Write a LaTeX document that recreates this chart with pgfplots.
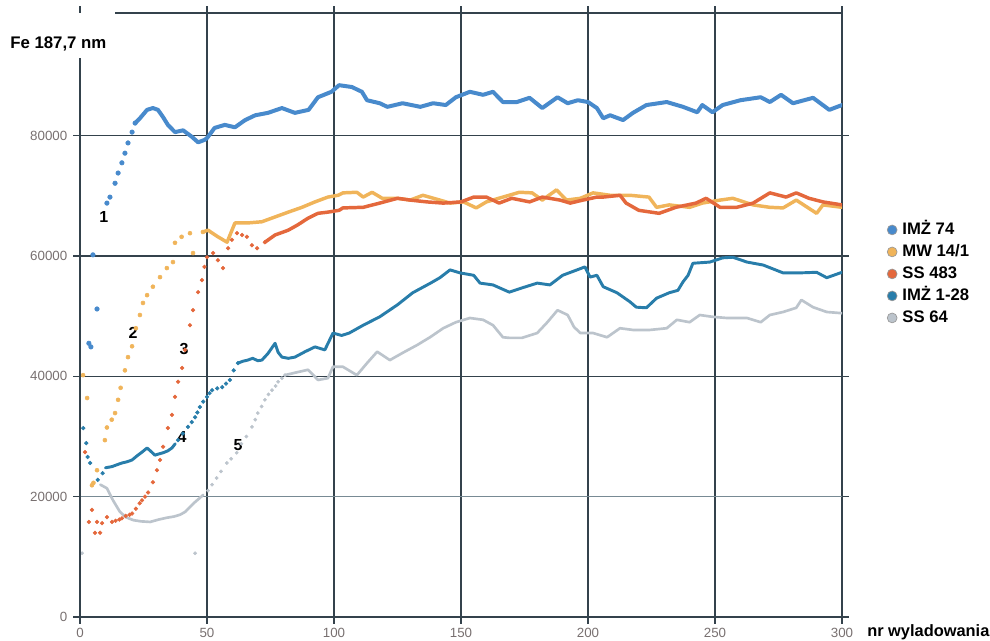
\documentclass[border=0pt]{standalone}
\usepackage{fontspec}
\setmainfont{Liberation Sans}
\usepackage{pgfplots}
\pgfplotsset{compat=1.18}
\definecolor{cA}{RGB}{72,138,204}
\definecolor{cB}{RGB}{240,180,90}
\definecolor{cC}{RGB}{228,104,60}
\definecolor{cD}{RGB}{40,125,170}
\definecolor{cE}{RGB}{188,196,204}
\definecolor{gridc}{RGB}{52,66,76}
\definecolor{gridl}{RGB}{120,138,148}
\definecolor{tickc}{RGB}{120,112,112}
\begin{document}
\begin{tikzpicture}
\begin{axis}[name=ax,
  scale only axis, width=571.5pt, height=453pt,
  xmin=0, xmax=300, ymin=0, ymax=100400,
  axis line style={draw=none},
  /pgf/number format/assume math mode=true,
  /pgf/number format/set thousands separator={},
  xtick={50,100,...,300}, extra x ticks={0}, extra x tick style={grid=none},
  ytick={0,40000,60000,80000}, extra y ticks={20000},
  extra y tick style={major grid style={draw=gridl, line width=1pt}},
  scaled y ticks=false,
  grid=major,
  major grid style={draw=gridc, line width=1.1pt},
  tick align=outside, major tick length=5pt,
  tick style={draw=gridc, line width=0.9pt},
  ticklabel style={text=tickc, font=\fontsize{10}{12}\selectfont},
  yticklabel style={xshift=-1pt},
  legend style={at={(axis description cs:1.059,0.568)}, anchor=west, draw=none, fill=none,
    inner sep=0pt, row sep=5pt,
    font=\bfseries\fontsize{12.5}{14}\selectfont,
    nodes={text height=9pt, text depth=2.5pt, inner xsep=4pt, inner ysep=0pt},
    cells={anchor=west}},
  legend image code/.code={\draw[#1, mark size=3.7pt, mark options={draw=black!40, line width=0.5pt}] plot coordinates {(0pt,0pt)};},
]
% ---- IMZ 74
\addplot[only marks, mark=*, mark size=1.7pt, color=cA] coordinates {
(3.5,45500)(4.3,44900)(5.1,60200)(6.7,51200)(10.6,68800)(11.8,69800)(13.8,72100)(15,73800)(16.5,75500)(17.7,77100)(18.9,78800)(20.5,80600)(21.7,82100)};
\addlegendentry{IMŻ 74}
\addplot[no markers, line width=3pt, color=cA, line join=round, line cap=round, forget plot] coordinates {
(21.7,82100)(23.6,82900)(26.4,84300)(28.7,84600)(30.7,84300)(32.7,83100)(34.6,81800)(37.4,80600)(40.6,80900)(44.1,79800)(46.5,78900)(49,79300)(50,79600)(53,81300)(57,81800)(61,81400)(65,82600)(69,83400)(74,83800)(79.5,84600)(84.6,83800)(90,84300)(93.7,86400)(99,87300)(102,88400)(107,88100)(111,87300)(113,85900)(118,85400)(121,84800)(127,85400)(134,84800)(139,85400)(144,85100)(148,86400)(153.5,87300)(158.7,86800)(162.6,87300)(166.5,85600)(172,85600)(177,86300)(182,84600)(188,86400)(192,85400)(196,85900)(200,85600)(203.5,84600)(206,82900)(208.7,83400)(213.8,82600)(217.7,83800)(223,85100)(231,85600)(237.4,84800)(243,83900)(245,85100)(249,83900)(253,85100)(260,85900)(268,86400)(271.6,85600)(276,86800)(280.7,85400)(288.6,86300)(295,84300)(300,85100)};
% ---- MW 14/1
\addplot[only marks, mark=*, mark size=1.5pt, color=cB] coordinates {
(1.2,40200)(2.8,36400)(4.7,21900)(5.3,22300)(6.7,24400)(9.8,29400)(10.6,31500)(12.5,32800)(13.8,33900)(15,36100)(16,38100)(17.7,41000)(18.9,43200)(20.5,45000)(22,48000)(23.6,50200)(24.8,52200)(26.4,53500)(28.7,54900)(31.5,56500)(34.2,58000)(36.6,59000)(37.4,62200)(40,63200)(43.3,63800)(44.5,60500)(48.4,64000)};
\addlegendentry{MW 14/1}
\addplot[no markers, line width=2.6pt, color=cB, line join=round, line cap=round, forget plot] coordinates {
(48.4,64000)(50.4,64300)(54.3,63200)(57.9,62300)(61,65500)(66,65500)(71.6,65700)(76.8,66500)(82,67300)(87.4,68100)(92.5,69000)(97.6,69800)(101.6,70100)(103.5,70500)(109,70600)(111.5,69800)(115,70600)(119,69600)(125,69600)(130,69300)(135,70100)(141.7,69300)(145.7,68800)(151,69000)(156,68000)(160,69000)(166.5,69800)(173,70600)(178,70500)(182,69300)(187.6,71000)(191.5,69300)(197,69600)(202,70500)(208.7,70100)(216.5,70100)(224,69800)(227,68100)(232,68500)(240,68100)(245,68800)(252,69300)(257,69600)(265,68500)(271.6,68100)(276.8,68000)(282,69300)(290,67100)(292.5,68500)(300,68100)};
% ---- SS 483
\addplot[only marks, mark=*, mark size=1.4pt, color=cC] coordinates {
(2,27400)(3.5,15800)(4.7,17800)(5.9,14000)(6.7,15800)(7.9,14000)(8.7,15600)(10.6,16600)(12.6,15800)(14,16000)(15.5,16200)(16.5,16400)(18,16800)(19.5,17000)(20.5,17200)(22,18000)(23.5,18900)(24.4,19400)(25.6,20000)(26.8,20700)(28.7,22400)(30.3,24400)(31.5,26100)(32.7,28300)(34.6,31400)(36.2,33600)(37.4,36600)(38.6,39100)(40.2,41400)(41.3,44400)(43.3,48500)(44.5,51000)(46.5,54000)(48,56000)(49,58200)(50,59800)(52.4,60500)(54.3,59300)(56.3,58000)(58.3,61300)(59.8,62700)(61.8,63800)(63.8,63500)(65.7,63200)(67.7,61800)(69.7,61300)(72.8,62300)};
\addlegendentry{SS 483}
\addplot[no markers, line width=2.6pt, color=cC, line join=round, line cap=round, forget plot] coordinates {
(72.8,62300)(76.8,63500)(82,64300)(85.8,65200)(89.8,66300)(93.7,67100)(97.6,67300)(102,67600)(103.5,68000)(111.5,68100)(118,68800)(125,69600)(130,69300)(136.6,69000)(143,68800)(150,69000)(155,69800)(160,69800)(165,68800)(170,69600)(177,69000)(182,69800)(189,69300)(193,68800)(198,69300)(203.5,69800)(206,69800)(212.6,70100)(215,68800)(220,67600)(228,67100)(234.6,68100)(242.5,68800)(246.5,69600)(252,68100)(258.6,68100)(265,68800)(271.6,70500)(278,69800)(282,70500)(287,69600)(292.5,69000)(300,68500)};
% ---- IMZ 1-28
\addplot[only marks, mark=*, mark size=1.4pt, color=cD] coordinates {
(1.3,31400)(2.5,28900)(3,26600)(4,25600)(7,22800)(8.9,23900)(38.6,29400)(40.5,30500)(42.5,31600)(44,32400)(45.3,33200)(46.2,34000)(47.2,34900)(48.5,35800)(50,36600)(51,37200)(52,37700)(54,38000)(56,38200)(57.5,38800)(59,39400)(60.5,41000)(62.2,42200)};
\addlegendentry{IMŻ 1-28}
\addplot[no markers, line width=2.2pt, color=cD, line join=round, line cap=round, forget plot] coordinates {
(10,24800)(12.6,25000)(14.5,25300)(16.5,25600)(18.5,25800)(20.5,26100)(22.5,26800)(24.4,27400)(26.4,28100)(28,27500)(29.5,26900)(31,27100)(32.7,27300)(34.5,27600)(36.2,28100)(37.5,28800)};
\addplot[no markers, line width=2.2pt, color=cD, line join=round, line cap=round, forget plot] coordinates {
(62.2,42200)(64,42500)(66,42700)(68,43000)(70,42600)(71.6,42700)(74,43800)(76.8,45500)(78,44000)(79.5,43200)(82,43000)(84.6,43200)(88.6,44100)(92.5,44900)(96.4,44400)(99.6,47200)(103,46800)(106,47200)(111.5,48500)(118,49900)(125,51900)(131,53900)(138,55500)(141.7,56400)(145.7,57700)(149.6,57200)(155,56800)(157.5,55500)(162.6,55200)(169,54000)(174,54700)(180,55500)(185,55200)(190,56800)(195.7,57700)(198.8,58200)(200.8,56500)(203.5,56800)(206,54900)(211.4,53900)(216.5,52400)(219,51500)(223,51400)(227,53000)(232,53900)(235.4,54300)(237.4,55700)(239.4,56800)(241.3,58800)(248,59000)(253,59700)(257,59800)(262.6,59000)(269,58500)(276.8,57200)(283.5,57200)(290,57300)(294,56400)(300,57300)};
% ---- SS 64
\addplot[only marks, mark=*, mark size=1.2pt, color=cE] coordinates {
(0.8,10600)(45.3,10600)(50.4,21000)(52,22000)(53.8,23100)(55.5,24200)(57.8,25600)(59.5,26300)(61.7,27300)(63.5,28800)(65.5,30000)(67.7,31600)(69,32800)(70,33900)(71.5,35000)(72.8,36100)(74.2,37000)(75.6,37700)(77,38400)(78,39100)(79.5,39700)(80.7,40200)};
\addlegendentry{SS 64}
\addplot[no markers, line width=2pt, color=cE, line join=round, line cap=round, forget plot] coordinates {
(8,22000)(10.6,21400)(13,19400)(15.7,17500)(18,16600)(21,16100)(24,15900)(27.6,15800)(31,16200)(34.2,16500)(37,16700)(39.4,17000)(41.5,17500)(43.3,18300)(45,19000)(47.2,19800)(48.5,20300)};
\addplot[no markers, line width=2pt, color=cE, line join=round, line cap=round, forget plot] coordinates {
(80.7,40200)(84.6,40600)(89.8,41100)(93.7,39400)(97.6,39700)(99.6,41600)(103.5,41600)(109,40200)(113,42200)(117,44100)(122,42700)(127,43900)(132.7,45200)(137.8,46500)(143,48000)(148,49000)(153.5,49700)(158.7,49400)(162.6,48500)(166.5,46500)(169,46400)(174,46400)(180,47200)(184,49000)(188,51000)(192,50200)(194.5,48200)(197,47200)(202,47200)(207.5,46500)(212.6,48000)(218,47700)(224,47700)(231,48000)(235,49400)(240,49000)(244,50200)(249,49900)(254.7,49700)(262.6,49700)(268,49000)(271.6,50200)(276.8,50700)(282,51400)(284,52700)(288.6,51500)(294,50700)(300,50500)};
% ---- curve numbers
\node[font=\bfseries\fontsize{12}{14}\selectfont, inner sep=0pt] at (axis cs:9.4,66500) {1};
\node[font=\bfseries\fontsize{12}{14}\selectfont, inner sep=0pt] at (axis cs:20.9,47300) {2};
\node[font=\bfseries\fontsize{12}{14}\selectfont, inner sep=0pt] at (axis cs:41,44500) {3};
\node[font=\bfseries\fontsize{12}{14}\selectfont, inner sep=0pt] at (axis cs:40.2,29900) {4};
\node[font=\bfseries\fontsize{12}{14}\selectfont, inner sep=0pt] at (axis cs:62.2,28600) {5};
\end{axis}
\draw[gridc, line width=1.1pt] ([xshift=26.25pt]ax.north west) -- (ax.north east);
\draw[gridc, line width=1.1pt] (ax.south west) -- ([yshift=-33.75pt]ax.north west);
\node[anchor=west, inner sep=0pt, font=\bfseries\fontsize{12.6}{14}\selectfont] at ([shift={(-52.5pt,-23.25pt)}]ax.north west) {Fe 187,7 nm};
\node[anchor=base west, inner sep=0pt, font=\bfseries\fontsize{12.3}{14}\selectfont] at ([shift={(18.75pt,-14.25pt)}]ax.south east) {nr wyladowania};
\pgfresetboundingbox
\path[use as bounding box] ([shift={(-60pt,-17.25pt)}]ax.south west) rectangle ([shift={(111pt,9.75pt)}]ax.north east);
\end{tikzpicture}
\end{document}
